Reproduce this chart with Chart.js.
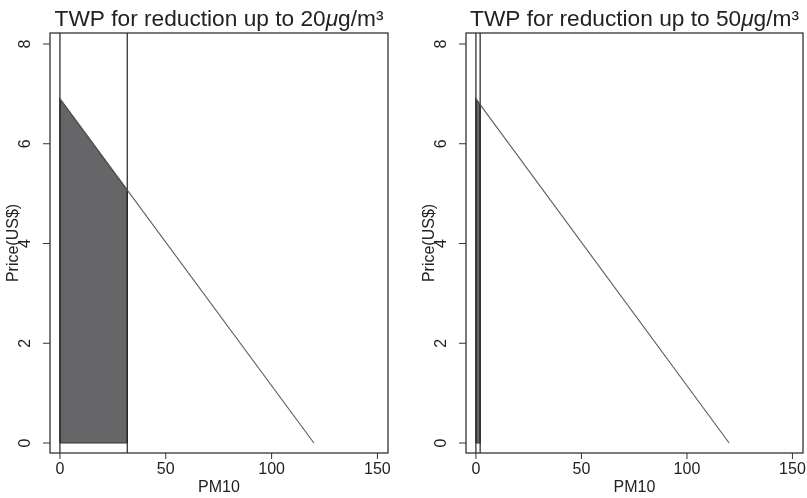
<!DOCTYPE html>
<html>
<head>
<meta charset="utf-8">
<script src="https://cdn.jsdelivr.net/npm/chart.js@4.4.1/dist/chart.umd.min.js"></script>
<style>
  html, body { margin: 0; padding: 0; background: #fff; }
  #wrap { position: relative; width: 807px; height: 498px; }
  canvas { position: absolute; top: 0; }
</style>
</head>
<body>
<div id="wrap">
  <canvas id="c1" width="403" height="498" style="left:0"></canvas>
  <canvas id="c2" width="404" height="498" style="left:403px"></canvas>
</div>
<script>
// axis ticks
const xTicks = [0, 50, 100, 150];
const yTicks = [0, 2, 4, 6, 8];

// demand line (price vs PM10)
const demandX = [0, 120];
const demandY = [6.9, 0];

// left panel: reduction up to 20
const cutLeft = [0, 31.8];
const shadeLeftX = [0, 0, 31.8, 31.8, 0];
const shadeLeftY = [0, 6.9, 5.07, 0, 0];

// right panel: reduction up to 50
const cutRight = [0, 2];
const shadeRightX = [0, 0, 2, 2, 0];
const shadeRightY = [0, 6.9, 6.785, 0, 0];

const titles = ["20", "50"];

const X_MIN = -4.7, X_MAX = 155;
const Y_MIN = -0.2, Y_MAX = 8.22;
const FONT = "'Liberation Sans', Arial, Helvetica, sans-serif";
const INK = "#222";

const pts = (xs, ys) => xs.map((x, i) => ({ x, y: ys[i] }));

// frame, ticks, labels, title (positions from the chart's own scales)
const stataAxes = {
  id: "stataAxes",
  afterDraw(chart, args, opts) {
    const { ctx, chartArea: a, scales } = chart;
    const sx = scales.x, sy = scales.y;
    ctx.save();
    ctx.strokeStyle = "#333";
    ctx.lineWidth = 1.3;
    ctx.strokeRect(a.left, a.top, a.right - a.left, a.bottom - a.top);

    ctx.fillStyle = INK;
    ctx.font = "16px " + FONT;
    ctx.lineWidth = 1;
    yTicks.forEach(v => {
      const py = sy.getPixelForValue(v);
      ctx.beginPath();
      ctx.moveTo(a.left - 7, py);
      ctx.lineTo(a.left, py);
      ctx.stroke();
      ctx.save();
      ctx.translate(a.left - 24, py);
      ctx.rotate(-Math.PI / 2);
      ctx.textAlign = "center";
      ctx.textBaseline = "middle";
      ctx.fillText(String(v), 0, 0);
      ctx.restore();
    });
    xTicks.forEach(v => {
      const px = sx.getPixelForValue(v);
      ctx.beginPath();
      ctx.moveTo(px, a.bottom);
      ctx.lineTo(px, a.bottom + 6);
      ctx.stroke();
      ctx.textAlign = "center";
      ctx.textBaseline = "middle";
      ctx.fillText(String(v), px, a.bottom + 17);
    });

    // axis titles
    ctx.font = "16px " + FONT;
    ctx.textAlign = "center";
    ctx.textBaseline = "middle";
    ctx.fillText("PM10", (a.left + a.right) / 2, a.bottom + 35);
    ctx.save();
    ctx.translate(a.left - 36, (a.top + a.bottom) / 2);
    ctx.rotate(-Math.PI / 2);
    ctx.fillText("Price(US$)", 0, 0);
    ctx.restore();

    // title with italic mu
    const parts = [
      ["TWP for reduction up to " + opts.level, "22.7px " + FONT],
      ["\u03BC", "italic 22.7px " + FONT],
      ["g/m\u00B3", "22.7px " + FONT]
    ];
    let total = 0;
    parts.forEach(p => { ctx.font = p[1]; total += ctx.measureText(p[0]).width; });
    let x = (a.left + a.right) / 2 - total / 2;
    ctx.textAlign = "left";
    ctx.textBaseline = "alphabetic";
    parts.forEach(p => {
      ctx.font = p[1];
      ctx.fillText(p[0], x, 25.5);
      x += ctx.measureText(p[0]).width;
    });
    ctx.restore();
  }
};

function makePanel(id, cuts, shX, shY, level, padLeft, padRight) {
  const datasets = [
    {
      data: pts(demandX, demandY),
      borderColor: "#5a5a5a",
      borderWidth: 1.1,
      pointRadius: 0,
      fill: false,
      order: 1
    },
    ...cuts.map(c => ({
      data: pts([c, c], [Y_MIN, Y_MAX]),
      borderColor: "#222",
      borderWidth: 1.2,
      pointRadius: 0,
      fill: false,
      order: 2
    })),
    {
      data: pts(shX, shY),
      borderColor: "#333",
      borderWidth: 1.2,
      backgroundColor: "#666669",
      pointRadius: 0,
      fill: "shape",
      order: 3
    }
  ];

  return new Chart(document.getElementById(id), {
    type: "line",
    data: { datasets },
    options: {
      responsive: false,
      animation: false,
      events: [],
      layout: { padding: { left: padLeft, right: padRight, top: 33, bottom: 45 } },
      plugins: {
        legend: { display: false },
        tooltip: { enabled: false },
        stataAxes: { level }
      },
      scales: {
        x: { type: "linear", min: X_MIN, max: X_MAX, display: false },
        y: { type: "linear", min: Y_MIN, max: Y_MAX, display: false }
      }
    },
    plugins: [stataAxes]
  });
}

makePanel("c1", cutLeft, shadeLeftX, shadeLeftY, titles[0], 50, 15);
makePanel("c2", cutRight, shadeRightX, shadeRightY, titles[1], 63, 4);
</script>
</body>
</html>
